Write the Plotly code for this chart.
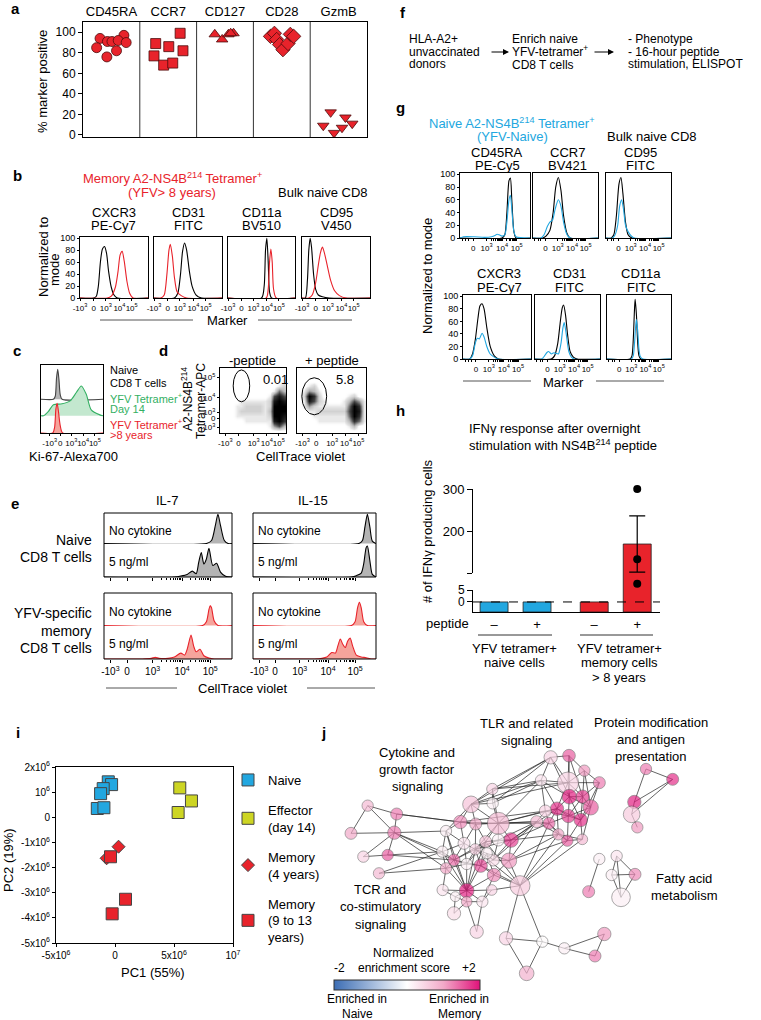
import numpy as np
import plotly.graph_objects as go

W, H = 761, 1020
FONT = "Liberation Sans, Arial, Helvetica, sans-serif"
RED = "#e8232b"
RED_FILL = "#f5a49c"
BLUE = "#22a7e0"
GREEN = "#34b063"
GREEN_FILL = "#c3e8cf"
GRAY_FILL = "#b4b4b4"
YELLOW = "#cdd523"

# ---------------- data ----------------
# panel a
A_MARKERS = ["CD45RA", "CCR7", "CD127", "CD28", "GzmB"]
A_CD45RA = [94, 97, 85, 91, 91, 92, 90, 82, 76]
A_CCR7 = [99, 89, 86, 82, 77, 68, 70]
A_CD127 = [98, 93, 98, 99, 99]
A_CD28 = [96, 99, 93, 88, 83, 89, 98, 96]
A_GZMB = [22, 17, 9, 2, 7, 11]
A_JITTER = [[-.2, .22, -.26, -.07, .01, .12, .26, .09, -.08],
            [.21, -.22, .01, .26, -.25, -.08, .08],
            [-.18, -.05, .06, .15, .1],
            [-.2, -.13, -.09, -.04, .02, .11, .15, .21],
            [-.14, .12, -.27, -.08, .06, .24]]
A_SYMBOLS = ["circle", "square", "triangle-up", "diamond", "triangle-down"]

# biexponential display ticks
BIEX_LABELS = ["-10<sup>3</sup>", "0", "10<sup>3</sup>", "10<sup>4</sup>", "10<sup>5</sup>"]

# panel b (x in display units 0..1, y in % of mode)
B_PANELS = [["CXCR3", "PE-Cy7"], ["CD31", "FITC"], ["CD11a", "BV510"], ["CD95", "V450"]]
B_NAIVE_X = [[0, .2, .24, .27, .3, .33, .36, .39, .42, .46, .5, .55, 1],
             [0, .3, .35, .39, .42, .45, .48, .52, .56, .62, .7, 1],
             [0, .5, .54, .56, .58, .6, .62, .65, 1],
             [0, .05, .08, .1, .12, .14, .17, .2, .24, .3, .4, 1]]
B_NAIVE_Y = [[0, 0, 3, 20, 60, 82, 86, 75, 45, 18, 5, 0, 0],
             [0, 0, 8, 40, 78, 92, 80, 45, 20, 5, 0, 0],
             [0, 0, 20, 80, 100, 60, 10, 0, 0],
             [0, 0, 30, 80, 100, 85, 40, 15, 5, 2, 0, 0]]
B_MEM_X = [[0, .4, .46, .52, .56, .59, .62, .65, .69, .73, .78, 1],
           [0, .1, .15, .19, .22, .24, .27, .3, .34, .4, .48, 1],
           [0, .57, .6, .62, .64, .66, .68, .72, 1],
           [0, .1, .15, .2, .24, .27, .3, .33, .37, .42, .48, .55, .65, 1]]
B_MEM_Y = [[0, 0, 3, 18, 45, 72, 78, 62, 28, 8, 0, 0],
           [0, 0, 5, 40, 80, 90, 70, 35, 10, 4, 0, 0],
           [0, 0, 15, 60, 82, 60, 15, 0, 0],
           [0, 0, 5, 25, 55, 75, 85, 75, 55, 30, 12, 4, 0, 0]]

# panel c
C_NAIVE_X = [0, .2, .23, .25, .27, .29, .31, .34, 1]
C_NAIVE_Y = [0, 0, 10, 70, 100, 65, 15, 0, 0]
C_D14_X = [0, .04, .12, .2, .34, .47, .57, .65, .73, .81, .95, 1]
C_D14_Y = [0, 0, 15, 37, 40, 50, 78, 100, 72, 20, 3, 0]
C_MEM_X = [0, .19, .22, .24, .26, .28, .31, .35, 1]
C_MEM_Y = [0, 0, 20, 80, 100, 75, 25, 0, 0]

# panel d : event density (0-9), rows top -> bottom, 14 columns
D_NOPEP = ["00000000000000",
           "00000000000000",
           "00000000000001",
           "00000000000012",
           "00000000000153",
           "00000000001686",
           "00001111112898",
           "00011222212999",
           "00012222213999",
           "00011111112998",
           "00000111111897",
           "00000000001463",
           "00000000000000"]
D_PEP = ["00000000000000",
         "00000000000000",
         "00000000000000",
         "00120000000000",
         "01431000000000",
         "02972000001200",
         "01862100013641",
         "01421111115971",
         "00112222226981",
         "00011111115971",
         "00001111113751",
         "00000000001300",
         "00000000000000"]
D_GATES = ["0.01", "5.8"]

# panel e : [IL-7 naive, IL-15 naive, IL-7 memory, IL-15 memory]
E_NONE_X = [[0, .8, .84, .87, .89, .91, .94, .97, 1],
            [0, .86, .89, .91, .93, .95, .97, 1],
            [0, .77, .8, .82, .83, .84, .86, .89, 1],
            [0, .8, .83, .85, .865, .88, .9, .93, 1]]
E_NONE_Y = [[0, 0, 10, 60, 97, 60, 10, 0, 0],
            [0, 0, 10, 55, 97, 55, 8, 0],
            [0, 0, 12, 50, 62, 55, 15, 0, 0],
            [0, 0, 12, 55, 72, 55, 12, 0, 0]]
E_5NG_X = [[0, .55, .6, .65, .69, .72, .74, .76, .78, .8, .82, .85, .88, .91, .95, 1],
           [0, .8, .84, .88, .9, .92, .93, .95, .97, 1],
           [0, .3, .37, .4, .43, .5, .55, .6, .63, .65, .68, .7, .72, .75, .78, .82, .86, 1],
           [0, .5, .56, .6, .64, .67, .69, .71, .73, .75, .77, .79, .81, .84, .88, .92, .96, 1]]
E_5NG_Y = [[0, 0, 3, 8, 18, 10, 45, 75, 40, 55, 88, 35, 42, 15, 2, 0],
           [0, 0, 4, 12, 40, 90, 95, 50, 8, 0],
           [0, 0, 2, 5, 2, 2, 6, 18, 12, 30, 73, 40, 22, 30, 10, 3, 0, 0],
           [0, 0, 2, 6, 20, 18, 40, 61, 45, 35, 55, 64, 40, 12, 6, 4, 0, 0]]

# panel g
G_PANELS = [["CD45RA", "PE-Cy5"], ["CCR7", "BV421"], ["CD95", "FITC"],
            ["CXCR3", "PE-Cy7"], ["CD31", "FITC"], ["CD11a", "FITC"]]
G_BULK_X = [[0, .6, .64, .67, .7, .72, .74, .77, .8, 1],
            [0, .15, .2, .26, .31, .35, .39, .43, .47, .52, .57, 1],
            [0, .08, .12, .16, .2, .23, .26, .3, .34, .4, 1],
            [0, .1, .14, .18, .22, .25, .28, .31, .35, .4, .46, .52, 1],
            [0, .25, .3, .35, .39, .42, .44, .47, .5, .54, .59, .65, 1],
            [0, .36, .39, .41, .43, .44, .46, .48, .5, .53, 1]]
G_BULK_Y = [[0, 0, 5, 40, 90, 94, 60, 10, 0, 0],
            [0, 0, 3, 12, 40, 80, 95, 75, 35, 8, 0, 0],
            [0, 0, 5, 35, 85, 95, 70, 25, 5, 0, 0],
            [0, 0, 8, 30, 65, 85, 88, 80, 50, 20, 5, 0, 0],
            [0, 0, 5, 25, 60, 82, 86, 70, 40, 12, 3, 0, 0],
            [0, 0, 5, 30, 80, 95, 70, 25, 5, 0, 0]]
G_NAIVE_X = [[0, .05, .2, .35, .45, .5, .53, .56, .6, .64, .67, .7, .72, .74, .77, .8, 1],
             [0, .12, .17, .22, .26, .3, .34, .39, .43, .47, .52, .57, 1],
             [0, .1, .14, .18, .21, .24, .27, .3, .34, .38, .43, 1],
             [0, .1, .14, .18, .21, .24, .28, .31, .35, .4, .46, .52, 1],
             [0, .1, .14, .18, .21, .25, .29, .32, .36, .4, .43, .45, .48, .52, .56, .6, 1],
             [0, .38, .41, .43, .45, .46, .48, .5, .52, .56, 1]]
G_NAIVE_Y = [[0, 2, 2, 1, 2, 4, 6, 5, 3, 5, 25, 60, 67, 45, 10, 2, 0],
             [0, 0, 5, 18, 25, 28, 45, 60, 50, 25, 6, 0, 0],
             [0, 0, 5, 20, 50, 60, 45, 20, 10, 4, 0, 0],
             [0, 0, 5, 25, 33, 32, 41, 35, 20, 8, 3, 0, 0],
             [0, 0, 4, 10, 12, 8, 10, 9, 8, 25, 50, 58, 40, 12, 3, 0, 0],
             [0, 0, 5, 25, 55, 63, 45, 15, 4, 0, 0]]

# panel h
H_SIGNS = ["\u2013", "+", "\u2013", "+"]
H_MEANS = [0, 0, 0, 169]
H_SEM = [0, 0, 0, 67]
H_POINTS = [300, 133, 40]
H_COLORS = [BLUE, BLUE, RED, RED]

# panel i
I_NAIVE_X = [-0.57e6, -0.29e6, -1.0e6, -1.22e6, -1.5e6, -0.94e6]
I_NAIVE_Y = [1.41e6, 1.3e6, 1.14e6, 0.94e6, 0.35e6, 0.38e6]
I_EFF_X = [5.49e6, 6.48e6, 5.35e6]
I_EFF_Y = [1.17e6, 0.65e6, 0.19e6]
I_MEM4_X = [0.3e6, -0.71e6]
I_MEM4_Y = [-1.17e6, -1.63e6]
I_MEM9_X = [-0.38e6, 0.89e6, -0.24e6]
I_MEM9_Y = [-1.57e6, -3.26e6, -3.84e6]

# panel j : network (layout coordinates, node radius, normalized enrichment score)
J_NAMES = (["T%d" % k for k in range(18)] + ["M%d" % k for k in range(30)] +
           ["L%d" % k for k in range(7)] + ["B%d" % k for k in range(6)] +
           ["P%d" % k for k in range(5)] + ["F%d" % k for k in range(6)])
J_X = [662, 717, 763, 808, 714, 633, 718, 758, 782, 681, 715, 752, 646, 620, 657, 685, 712, 757,
       487, 488, 423, 505, 437, 391, 348, 543, 505, 467, 402, 337, 436, 372, 410, 452, 490, 470, 537,
       492, 348, 570, 410, 338, 376, 410, 457, 485, 372, 440,
       113, 200, 63, 193, 100, 173, 147,
       528, 637, 703, 590, 823, 795,
       948, 1028, 913, 905, 922,
       808, 860, 845, 915, 873, 776]
J_Y = [352, 347, 392, 428, 428, 421, 470, 470, 502, 506, 528, 540, 513, 545, 550, 583, 602, 598,
       447, 490, 493, 550, 552, 546, 573, 600, 600, 605, 610, 635, 628, 660, 672, 677, 660, 640, 662,
       705, 685, 737, 752, 750, 770, 785, 785, 750, 820, 875,
       497, 522, 580, 578, 650, 645, 700,
       895, 905, 925, 1000, 882, 948,
       387, 418, 486, 523, 562,
       657, 648, 705, 703, 772, 755]
J_R = [20, 19, 17, 18, 32, 17, 22, 20, 23, 20, 20, 20, 18, 18, 18, 17, 17, 16,
       17, 17, 25, 33, 18, 20, 17, 22, 18, 18, 18, 17, 17, 18, 17, 20, 18, 17, 23,
       20, 17, 30, 22, 17, 15, 16, 17, 16, 20, 20,
       17, 18, 18, 20, 17, 17, 17,
       20, 17, 17, 22, 20, 18,
       17, 18, 20, 25, 17,
       17, 17, 17, 18, 28, 18]
J_NES = [.5, 1.5, 1.1, 1.3, .5, .3, 1.9, 1.7, 1.5, 1.8, 1.7, 1.8, .5, .8, 1.4, 1.0, 1.5, .8,
         .5, .15, .7, .8, 1.0, 1.2, .2, 1.7, .15, .7, .3, .2, .5, 1.4, .15, 1.6, .4, .2, 1.1,
         1.2, 1.0, .6, 1.9, .3, .2, 1.0, .3, .5, .4, .5,
         .8, 1.3, 1.0, 1.3, .5, 1.5, .8,
         .5, .05, .2, .9, 1.1, 1.3,
         1.3, 1.8, 1.9, .6, 1.1,
         .2, .3, .2, 1.2, .2, 1.3]
J_EDGES = """
T0-T1 T0-T4 T0-T6 T0-T5 T1-T2 T1-T4 T1-T6 T1-T7 T2-T3 T2-T4 T2-T7 T2-T8 T3-T4 T3-T7 T3-T8 T3-T11
T4-T5 T4-T6 T4-T7 T4-T9 T5-T6 T5-T9 T5-T12 T6-T7 T6-T8 T6-T9 T6-T10 T6-T11 T7-T8 T7-T10 T7-T11
T8-T10 T8-T11 T8-T17 T9-T10 T9-T11 T9-T12 T9-T14 T9-T15 T10-T11 T10-T12 T10-T14 T10-T16 T11-T16 T11-T17
T12-T13 T12-T14 T13-T14 T13-T15 T14-T15 T14-T16 T15-T16 T15-T17 T16-T17
M0-T0 M0-T4 M0-T5 M1-T0 M1-T5 M2-T0 M2-T4 M2-T5 M3-T5 M3-T9 M3-T12 M3-T13 M3-T14 M4-T13 M5-T12
M7-T9 M7-T13 M7-T14 M7-T15 M8-T13 M16-T13 M18-T13 M18-T15 M18-T16 M21-T14 M21-T15 M21-T16 M21-T17
M0-M1 M0-M2 M0-M3 M1-M2 M1-M3 M2-M3 M2-M4 M2-M5 M2-M6 M3-M4 M3-M5 M3-M7 M3-M8 M3-M9 M3-M12
M4-M5 M4-M9 M4-M10 M4-M12 M5-M6 M5-M10 M6-M10 M6-M11 M6-M13 M6-M22 M7-M8 M7-M9 M7-M12 M7-M16 M7-M18
M8-M9 M8-M12 M8-M16 M9-M12 M9-M13 M9-M14 M9-M15 M9-M21 M9-M22 M10-M11 M10-M12 M10-M13 M10-M14
M11-M13 M11-M20 M11-M22 M12-M13 M12-M14 M12-M15 M12-M16 M12-M17 M12-M21 M12-M22 M13-M14 M13-M15
M13-M20 M13-M22 M14-M15 M14-M20 M14-M22 M15-M16 M15-M17 M15-M19 M15-M21 M15-M22 M16-M17 M16-M18
M17-M18 M17-M19 M18-M19 M18-M21 M19-M21 M19-M22 M19-M26 M20-M22 M20-M23 M21-M27 M22-M23 M22-M24
M22-M25 M22-M26 M22-M27 M23-M24 M24-M25 M24-M28 M25-M26 M25-M28 M25-M29 M26-M27 M26-M29
L0-L1 L0-L2 L0-L3 L1-L3 L2-L3 L3-L4 L3-L5 L4-L5 L1-M5 L1-M4 L3-M6 L3-M11 L3-M13 L3-M20 L5-M11
L5-M13 L6-M11 L6-M20
M21-B0 M21-B1 B0-B1 B0-B3 B1-B3 B1-B2 B2-B4 B2-B5 B4-B5
P0-P1 P0-P2 P1-P2 P1-P3 P2-P3 P3-P4
F0-F5 F1-F2 F1-F3 F1-F4 F2-F3 F2-F4 F3-F4
"""
J_SCALE = [[0, "#3c6db4"], [0.5, "#ffffff"], [0.75, "#f2a9c8"], [1, "#e0127a"]]

# ---------------- helpers ----------------
fig = go.Figure()
LAYOUT = {}
ANN = []
SHAPES = []
_axn = [0]


def axes(x0, x1, y0, y1, xr, yr, xkw=None, ykw=None):
    _axn[0] += 1
    n = _axn[0]
    s = "" if n == 1 else str(n)
    base = dict(showgrid=False, zeroline=False, showticklabels=False, ticks="", showline=False,
                fixedrange=True, tickfont=dict(size=9, family=FONT, color="black"), tickangle=0,
                linecolor="black", linewidth=1, tickcolor="black", tickwidth=1, ticklen=3)
    xd = dict(base, domain=[x0 / W, x1 / W], range=xr, anchor="y" + s)
    yd = dict(base, domain=[1 - y1 / H, 1 - y0 / H], range=yr, anchor="x" + s)
    if xkw:
        xd.update(xkw)
    if ykw:
        yd.update(ykw)
    LAYOUT["xaxis" + s] = xd
    LAYOUT["yaxis" + s] = yd
    return "x" + s, "y" + s


def tf(size):
    return dict(size=size, family=FONT, color="black")


def T(x, y, s, size=12, color="black", xa="center", ya="middle", angle=0, bold=False):
    if bold:
        s = "<b>%s</b>" % s
    ANN.append(dict(x=x / W, y=1 - y / H, xref="paper", yref="paper", text=s, showarrow=False,
                    font=dict(size=size, color=color, family=FONT), xanchor=xa, yanchor=ya,
                    textangle=angle))


def TL(x, y0, dy, strs, **kw):
    for i, s in enumerate(strs):
        T(x, y0 + i * dy, s, **kw)


def hline(x0, x1, y, color="#444", width=1):
    SHAPES.append(dict(type="line", xref="paper", yref="paper", x0=x0 / W, x1=x1 / W,
                       y0=1 - y / H, y1=1 - y / H, line=dict(color=color, width=width)))


def rect(x0, x1, y0, y1, color="black", width=1):
    SHAPES.append(dict(type="rect", xref="paper", yref="paper", x0=x0 / W, x1=x1 / W,
                       y0=1 - y1 / H, y1=1 - y0 / H, line=dict(color=color, width=width)))


def curve(xa, ya, xs, ys, color, fill=None, offset=0.0, scale=1.0, width=1.1):
    fig.add_trace(go.Scatter(
        x=xs, y=[offset + v * scale for v in ys], mode="lines",
        line=dict(color=color, width=width, shape="spline", smoothing=0.7),
        fill="toself" if fill else None, fillcolor=fill,
        xaxis=xa, yaxis=ya, showlegend=False, hoverinfo="skip"))


def biex_minor(p3, p4, p5):
    out = []
    for a, b in ((p3, p4), (p4, p5)):
        out += [a + (b - a) * float(np.log10(k)) for k in range(2, 10)]
    return out


PANEL = 15

# ---------------- panel a ----------------
T(15, 9, "a", size=PANEL, bold=True)
xa, ya = axes(83, 367, 22, 137, [-0.5, 4.5], [-2, 110],
              xkw=dict(side="top", tickmode="array", tickvals=list(range(5)), ticktext=A_MARKERS,
                       showticklabels=True, showline=True, mirror=True, tickfont=tf(13)),
              ykw=dict(tickmode="array", tickvals=[0, 20, 40, 60, 80, 100], showticklabels=True,
                       ticks="outside", ticklen=4, showline=True, mirror=True, tickfont=tf(12)))
for k in range(4):
    SHAPES.append(dict(type="line", xref=xa, yref=ya + " domain", x0=k + 0.5, x1=k + 0.5, y0=0, y1=1,
                       line=dict(color="#333", width=1)))
A_VALUES = [A_CD45RA, A_CCR7, A_CD127, A_CD28, A_GZMB]
for k, vals in enumerate(A_VALUES):
    fig.add_trace(go.Scatter(
        x=[k + j for j in A_JITTER[k]], y=vals, mode="markers", xaxis=xa, yaxis=ya, showlegend=False,
        cliponaxis=False,
        marker=dict(symbol=A_SYMBOLS[k], size=10 if k != 3 else 11, color=RED,
                    line=dict(color="#4a0b0b", width=0.8))))
T(42, 82, "% marker positive", size=13, angle=-90)

# ---------------- panel b ----------------
T(17, 175, "b", size=PANEL, bold=True)
TL(172, 178, 14, ["Memory A2-NS4B<sup>214</sup> Tetramer<sup>+</sup>", "(YFV> 8 years)"], size=13, color=RED)
T(323, 192, "Bulk naive CD8", size=13)
B_BOX_X = [(80, 148), (154, 222), (228, 295), (302, 370)]
B_TICKS = [0.0, 0.2, 0.38, 0.58, 0.76]
for k in range(4):
    x0, x1 = B_BOX_X[k]
    xa, ya = axes(x0, x1, 237, 298, [0, 1], [0, 102],
                  xkw=dict(showline=True, mirror=True, ticks="outside", ticklen=2, tickmode="array",
                           tickvals=B_TICKS, ticktext=BIEX_LABELS, showticklabels=True, tickfont=tf(8)),
                  ykw=dict(showline=True, mirror=True, ticks="outside" if k == 0 else "", ticklen=2,
                           tickmode="array", tickvals=[0, 20, 40, 60, 80, 100], showticklabels=(k == 0),
                           tickfont=tf(9)))
    curve(xa, ya, B_NAIVE_X[k], B_NAIVE_Y[k], "black")
    curve(xa, ya, B_MEM_X[k], B_MEM_Y[k], RED)
    TL((x0 + x1) / 2, 212, 13.5, B_PANELS[k], size=13)
T(43, 257, "Normalized to", size=13, angle=-90)
T(55, 270, "mode", size=13, angle=-90)
T(227, 320, "Marker", size=13)
hline(100, 193, 320, "#555")
hline(258, 352, 320, "#555")

# ---------------- panel c ----------------
T(17, 350, "c", size=PANEL, bold=True)
C_TICKS = [0.14, 0.31, 0.49, 0.68, 0.87]
xa, ya = axes(41, 103, 365, 433, [0, 1], [0, 2.28],
              xkw=dict(showline=True, mirror=True, ticks="outside", ticklen=2, tickmode="array",
                       tickvals=C_TICKS, ticktext=BIEX_LABELS, showticklabels=True, tickfont=tf(8)),
              ykw=dict(showline=True, mirror=True))
C_OFFSETS = [1.133, 0.578, 0.0]
curve(xa, ya, C_NAIVE_X, C_NAIVE_Y, "#444", fill=GRAY_FILL, offset=C_OFFSETS[0], scale=0.01)
curve(xa, ya, C_D14_X, C_D14_Y, GREEN, fill=GREEN_FILL, offset=C_OFFSETS[1], scale=0.01)
curve(xa, ya, C_MEM_X, C_MEM_Y, RED, fill=RED_FILL, offset=C_OFFSETS[2], scale=0.01)
TL(108, 370, 13, ["Naive", "CD8 T cells"], size=11, xa="left")
TL(108, 398, 11, ["YFV Tetramer<sup>+</sup>", "Day 14"], size=11, xa="left", color=GREEN)
TL(108, 424, 11, ["YFV Tetramer<sup>+</sup>", ">8 years"], size=11, xa="left", color=RED)
T(73, 457, "Ki-67-Alexa700", size=13)

# ---------------- panel d ----------------
T(163, 350, "d", size=PANEL, bold=True)
D_XTICKS = [0.08, 0.28, 0.51, 0.71, 0.89]
D_YTICKS = [0.09, 0.23, 0.32, 0.54, 0.86]
D_BOX_X = [(220, 286), (297, 366)]
D_TITLES = ["-peptide", "+ peptide"]
D_GATE = [(0.2, 0.45, 0.48, 0.97), (0.07, 0.43, 0.28, 0.85)]
D_LABEL_U = [0.62, 0.53]
for k, grid in enumerate([D_NOPEP, D_PEP]):
    x0, x1 = D_BOX_X[k]
    xa, ya = axes(x0, x1, 368, 433, [0, 1], [0, 1],
                  xkw=dict(showline=True, mirror=True, ticks="outside", ticklen=2, tickmode="array",
                           tickvals=D_XTICKS, ticktext=BIEX_LABELS, showticklabels=True, tickfont=tf(8)),
                  ykw=dict(showline=True, mirror=True, ticks="outside" if k == 0 else "", ticklen=2,
                           tickmode="array", tickvals=D_YTICKS, showticklabels=(k == 0),
                           ticktext=["-10<sup>3</sup>", "0", "10<sup>3</sup>", "10<sup>4</sup>", "10<sup>5</sup>"],
                           tickfont=tf(8)))
    nr, nc = len(grid), len(grid[0])
    z = [[int(ch) for ch in row] for row in grid][::-1]
    fig.add_trace(go.Heatmap(
        z=z, x=[(c + 0.5) / nc for c in range(nc)], y=[(r + 0.5) / nr for r in range(nr)],
        zmin=0, zmax=9, zsmooth="best", showscale=False, hoverinfo="skip",
        colorscale=[[0, "rgba(255,255,255,0)"], [0.12, "rgba(0,0,0,0.10)"], [0.35, "rgba(0,0,0,0.28)"],
                    [0.7, "rgba(0,0,0,0.75)"], [1, "rgba(0,0,0,1)"]],
        xaxis=xa, yaxis=ya))
    g = D_GATE[k]
    SHAPES.append(dict(type="circle", xref=xa, yref=ya, x0=g[0], x1=g[1], y0=g[2], y1=g[3],
                       line=dict(color="black", width=1)))
    ANN.append(dict(x=D_LABEL_U[k], y=0.82, xref=xa, yref=ya, text=D_GATES[k], showarrow=False,
                    font=tf(13), xanchor="left", yanchor="middle"))
    T((x0 + x1) / 2, 360, D_TITLES[k], size=13)
T(187, 399, "A2-NS4B<sup>214</sup>", size=12, angle=-90)
T(201, 401, "Tetramer-APC", size=12, angle=-90)
T(300, 457, "CellTrace violet", size=13)

# ---------------- panel e ----------------
T(15, 503, "e", size=PANEL, bold=True)
T(167, 500, "IL-7", size=13)
T(313, 500, "IL-15", size=13)
E_BOXES = [(104, 232, 513, 544, 577), (253, 376, 513, 544, 577),
           (104, 232, 593, 626, 659), (253, 376, 593, 626, 659)]
E_TICKS = [0.05, 0.18, 0.38, 0.61, 0.83]
for k, (x0, x1, y0, ym, y1) in enumerate(E_BOXES):
    memory = k >= 2
    line_c, fill_c = (RED, RED_FILL) if memory else ("black", GRAY_FILL)
    xa, ya = axes(x0, x1, y0, ym, [0, 1], [-1.5, 101])
    curve(xa, ya, E_NONE_X[k], E_NONE_Y[k], line_c, fill=fill_c)
    xa2, ya2 = axes(x0, x1, ym, y1, [0, 1], [0, 101],
                    xkw=dict(ticks="outside", ticklen=3, tickmode="array", tickvals=E_TICKS,
                             ticktext=BIEX_LABELS, showticklabels=memory, tickfont=tf(10),
                             minor=dict(ticks="outside", ticklen=2, tickmode="array",
                                        tickvals=biex_minor(E_TICKS[2], E_TICKS[3], E_TICKS[4]),
                                        tickcolor="black")))
    curve(xa2, ya2, E_5NG_X[k], E_5NG_Y[k], line_c, fill=fill_c)
    rect(x0, x1, y0, y1)
    T(x0 + 3, (y0 + ym) / 2 + 2, "No cytokine", size=12, xa="left")
    T(x0 + 3, (ym + y1) / 2 + 1, "5 ng/ml", size=12, xa="left")
TL(94, 540, 17, ["Naive", "CD8 T cells"], size=14, xa="right")
TL(94, 613, 17.5, ["YFV-specific", "memory", "CD8 T cells"], size=14, xa="right")
T(243, 688, "CellTrace violet", size=13)
hline(106, 177, 688, "#555")
hline(307, 375, 688, "#555")

# ---------------- panel f ----------------
T(403, 13, "f", size=PANEL, bold=True)
TL(407, 39, 12.6, ["HLA-A2+", "unvaccinated", "donors"], size=12, xa="left")
T(510, 39, "Enrich naive", size=12, xa="left")
T(510, 51.2, "YFV-tetramer<sup>+</sup>", size=12, xa="left")
T(510, 65, "CD8 T cells", size=12, xa="left")
TL(626, 39, 12.6, ["- Phenotype", "- 16-hour peptide", "stimulation, ELISPOT"], size=12, xa="left")
for (ax0, ax1) in [(490, 509), (593, 614)]:
    ANN.append(dict(x=ax1 / W, y=1 - 52 / H, xref="paper", yref="paper", ax=ax0 - ax1, ay=0,
                    text="", showarrow=True, arrowhead=2, arrowsize=1, arrowwidth=1.2,
                    arrowcolor="black"))

# ---------------- panel g ----------------
T(400, 108, "g", size=PANEL, bold=True)
TL(512, 123, 14, ["Naive A2-NS4B<sup>214</sup> Tetramer<sup>+</sup>", "(YFV-Naive)"], size=13, color=BLUE)
T(652, 137, "Bulk naive CD8", size=13)
G_BOXES = [(460, 530, 173, 238), (533, 598, 173, 238), (606, 671, 173, 238),
           (463, 531, 295, 359), (535, 600, 295, 359), (607, 671, 295, 359)]
G_TICKS = [0.19, 0.38, 0.6, 0.81]
for k, (x0, x1, y0, y1) in enumerate(G_BOXES):
    xa, ya = axes(x0, x1, y0, y1, [0, 1], [0, 102],
                  xkw=dict(showline=True, mirror=True, ticks="outside", ticklen=2, tickmode="array",
                           tickvals=G_TICKS, ticktext=BIEX_LABELS[1:], showticklabels=True, tickfont=tf(8),
                           minor=dict(ticks="outside", ticklen=1.5, tickmode="array",
                                      tickvals=biex_minor(G_TICKS[1], G_TICKS[2], G_TICKS[3]) + [0.03, 0.08, 0.12],
                                      tickcolor="black")),
                  ykw=dict(showline=True, mirror=True, ticks="outside" if k % 3 == 0 else "", ticklen=2,
                           tickmode="array", tickvals=[0, 20, 40, 60, 80, 100], showticklabels=(k % 3 == 0),
                           tickfont=tf(9)))
    curve(xa, ya, G_BULK_X[k], G_BULK_Y[k], "black")
    curve(xa, ya, G_NAIVE_X[k], G_NAIVE_Y[k], BLUE)
    TL((x0 + x1) / 2 + 2, y0 - 21, 13.5, G_PANELS[k], size=13)
T(428, 276, "Normalized to mode", size=13, angle=-90)
T(563, 382, "Marker", size=13)
hline(463, 531, 381, "#555")
hline(596, 664, 381, "#555")

# ---------------- panel h ----------------
T(400, 410, "h", size=PANEL, bold=True)
TL(467, 428, 17, ["IFN\u03b3 response after overnight",
                  "stimulation with NS4B<sup>214</sup> peptide"], size=13, xa="left")
H_POS = [0, 1, 2.33, 3.33]
H_XR = [-0.49, 3.86]
H_LOW = -4.2
H_SEGS = [(489, 573, [100, 300]), (573, 590, [5, 100]), (590, 612, [H_LOW, 5])]
for s, (y0, y1, yr) in enumerate(H_SEGS):
    if s == 0:
        ykw = dict(showline=True, ticks="outside", ticklen=5, tickmode="array", tickvals=[100, 200, 300],
                   ticktext=["", "200", "300"], showticklabels=True, tickfont=tf(13))
        xkw = None
    elif s == 1:
        ykw, xkw = None, None
    else:
        ykw = dict(showline=True, ticks="outside", ticklen=5, tickmode="array", tickvals=[0, 5],
                   ticktext=["0", "5"], showticklabels=True, tickfont=tf(12))
        xkw = dict(showline=True, tickmode="array", tickvals=H_POS, ticktext=H_SIGNS,
                   showticklabels=True, tickfont=tf(13))
    xa, ya = axes(473, 660, y0, y1, H_XR, yr, xkw=xkw, ykw=ykw)
    fig.add_trace(go.Bar(x=H_POS, y=[m - H_LOW for m in H_MEANS], base=H_LOW, width=0.65,
                         marker=dict(color=H_COLORS, line=dict(color="#222", width=0.8)),
                         xaxis=xa, yaxis=ya, showlegend=False, hoverinfo="skip"))
    pts = [p for p in H_POINTS if yr[0] <= p <= yr[1]]
    if pts:
        fig.add_trace(go.Scatter(x=[H_POS[3]] * len(pts), y=pts, mode="markers", cliponaxis=False,
                                 marker=dict(color="black", size=8), xaxis=xa, yaxis=ya,
                                 showlegend=False, hoverinfo="skip"))
    if s == 0:
        fig.add_trace(go.Scatter(x=[H_POS[3]], y=[H_MEANS[3]], mode="markers",
                                 marker=dict(size=1, color="rgba(0,0,0,0)"),
                                 error_y=dict(type="data", array=[H_SEM[3]], color="black",
                                              thickness=1.2, width=8),
                                 xaxis=xa, yaxis=ya, showlegend=False, hoverinfo="skip"))
    if s == 2:
        SHAPES.append(dict(type="line", xref=xa + " domain", yref=ya, x0=0, x1=1, y0=0, y1=0,
                           line=dict(color="black", width=1, dash="dash")))
T(427, 531, "# of IFN\u03b3 producing cells", size=13, angle=-90)
T(447, 623, "peptide", size=13)
hline(478, 552, 635, "#333")
hline(580, 653, 635, "#333")
TL(514, 648, 14.5, ["YFV tetramer+", "naive cells"], size=13)
TL(619, 648, 14.5, ["YFV tetramer+", "memory cells", "> 8 years"], size=13)

# ---------------- panel i ----------------
T(18, 732, "i", size=PANEL, bold=True)
xa, ya = axes(56, 233, 767, 943, [-5e6, 1e7], [-5e6, 2e6],
              xkw=dict(showline=True, mirror=True, ticks="outside", ticklen=3, tickmode="array",
                       tickvals=[-5e6, 0, 5e6, 1e7],
                       ticktext=["-5x10<sup>6</sup>", "0", "5x10<sup>6</sup>", "10<sup>7</sup>"],
                       showticklabels=True, tickfont=tf(10)),
              ykw=dict(showline=True, mirror=True, ticks="outside", ticklen=3, tickmode="array",
                       tickvals=[-5e6, -4e6, -3e6, -2e6, -1e6, 0, 1e6, 2e6],
                       ticktext=["-5x10<sup>6</sup>", "-4x10<sup>6</sup>", "-3x10<sup>6</sup>",
                                 "-2x10<sup>6</sup>", "-1x10<sup>6</sup>", "0", "10<sup>6</sup>",
                                 "2x10<sup>6</sup>"],
                       showticklabels=True, tickfont=tf(10)))
I_SERIES = [("Naive", I_NAIVE_X, I_NAIVE_Y, BLUE, "square", 12),
            ("Effector<br>(day 14)", I_EFF_X, I_EFF_Y, YELLOW, "square", 12),
            ("Memory<br>(4 years)", I_MEM4_X, I_MEM4_Y, RED, "diamond", 10),
            ("Memory<br>(9 to 13<br>years)", I_MEM9_X, I_MEM9_Y, RED, "square", 12)]
for k, (name, xs, ys, col, sym, size) in enumerate(I_SERIES):
    fig.add_trace(go.Scatter(x=xs, y=ys, mode="markers", name=name, legendgroup="g%d" % k,
                             marker=dict(symbol=sym, size=size, color=col, line=dict(color="#444", width=1)),
                             xaxis=xa, yaxis=ya, hoverinfo="skip"))
T(153, 972, "PC1 (55%)", size=13)
T(8, 860, "PC2 (19%)", size=13, angle=-90)

# ---------------- panel j ----------------
T(323, 732, "j", size=PANEL, bold=True)
xa, ya = axes(330, 761, 640, 1020, [0, 1293], [1140, 0])
idx = {n: i for i, n in enumerate(J_NAMES)}
ex, ey = [], []
for e in J_EDGES.split():
    a, b = e.split("-")
    ex += [J_X[idx[a]], J_X[idx[b]], None]
    ey += [J_Y[idx[a]], J_Y[idx[b]], None]
fig.add_trace(go.Scatter(x=ex, y=ey, mode="lines", line=dict(color="#222", width=0.7),
                         xaxis=xa, yaxis=ya, showlegend=False, hoverinfo="skip"))
fig.add_trace(go.Scatter(
    x=J_X, y=J_Y, mode="markers", xaxis=xa, yaxis=ya, showlegend=False, hoverinfo="skip",
    marker=dict(size=[r * 2 / 3 for r in J_R], color=J_NES, cmin=-2, cmax=2, colorscale=J_SCALE,
                line=dict(color="#555", width=0.7), showscale=True,
                colorbar=dict(orientation="h", x=407 / W, xanchor="center", y=1 - 991 / H,
                              yanchor="bottom", len=146, lenmode="pixels", thickness=10,
                              thicknessmode="pixels", outlinewidth=1, outlinecolor="#333",
                              showticklabels=False, ticks="", xpad=0, ypad=0))))
TL(526, 723, 17.5, ["TLR and related", "signaling"], size=13)
TL(651, 722, 17, ["Protein modification", "and antigen", "presentation"], size=13)
TL(417, 752, 17, ["Cytokine and", "growth factor", "signaling"], size=13)
TL(380, 889, 17.5, ["TCR and", "co-stimulatory", "signaling"], size=13)
TL(684, 878, 17, ["Fatty acid", "metabolism"], size=13)
TL(404, 953, 15, ["Normalized", "enrichment score"], size=12)
T(339, 968, "-2", size=12)
T(469, 968, "+2", size=12)
TL(357, 999, 14.5, ["Enriched in", "Naive"], size=12)
TL(459, 999, 14.5, ["Enriched in", "Memory"], size=12)

# ---------------- layout ----------------
fig.update_layout(
    width=W, height=H, margin=dict(l=0, r=0, t=0, b=0), template="none",
    paper_bgcolor="white", plot_bgcolor="rgba(0,0,0,0)",
    font=dict(family=FONT, size=12, color="black"),
    showlegend=True,
    legend=dict(x=228 / W, y=1 - 765 / H, xanchor="left", yanchor="top", font=tf(13),
                tracegroupgap=10, itemsizing="trace", bgcolor="rgba(0,0,0,0)", valign="middle"),
    annotations=ANN, shapes=SHAPES, bargap=0, **LAYOUT)
fig.write_html("out.html", config={"displayModeBar": False, "staticPlot": True},
               post_script="document.body.style.margin='0px';document.body.style.overflow='hidden';")
